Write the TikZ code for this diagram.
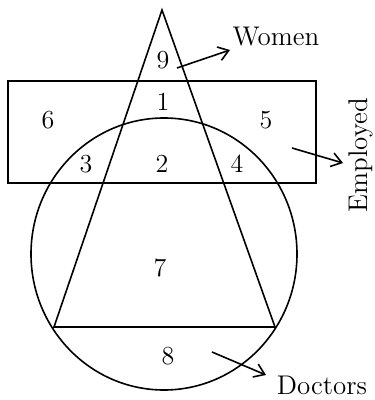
\documentclass[tikz,border=0pt]{standalone}
\usetikzlibrary{arrows.meta}

\begin{document}
\begin{tikzpicture}[
      x=0.5pt, y=-0.5pt,
      num/.style={font=\fontsize{13}{15}\selectfont},
      tag/.style={font=\fontsize{13.5}{16}\selectfont},
      outline/.style={line width=0.8pt},
      pointer/.style={line width=0.8pt, -{Straight Barb[length=5pt, width=7pt]}},
      >=Stealth
    ]
    \useasboundingbox (0,0) rectangle (374,400);
    % sets
    \coordinate (apex) at (162,10);
    \coordinate (bl) at (54,327);
    \coordinate (br) at (275,327);
    \draw[outline] (8,81) rectangle (316,183);
    \draw[outline] (164,254) ellipse [x radius=133, y radius=136];
    \draw[outline] (apex) -- (bl) -- (br) -- cycle;
    % regions
    \node[num] (r9) at (163,60) {9};
    \node[num] (r1) at (163,102) {1};
    \node[num] (r6) at (48,120) {6};
    \node[num] (r5) at (266,120) {5};
    \node[num] (r3) at (86,164) {3};
    \node[num] (r2) at (162,164) {2};
    \node[num] (r4) at (237,164) {4};
    \node[num] (r7) at (160,268) {7};
    \node[num] (r8) at (168,356) {8};
    % set names
    \node[tag] (women) at (276,37) {Women};
    \node[tag, rotate=90] (employed) at (361,155) {Employed};
    \node[tag] (doctors) at (322,385) {Doctors};
    \coordinate (wfrom) at (177,68);
    \coordinate (wto) at (230,50);
    \coordinate (efrom) at (292,148);
    \coordinate (eto) at (343,163);
    \coordinate (dfrom) at (212,352);
    \coordinate (dto) at (266,375);
    \draw[pointer] (wfrom) -- (wto);
    \draw[pointer] (efrom) -- (eto);
    \draw[pointer] (dfrom) -- (dto);
  \end{tikzpicture}
\end{document}
